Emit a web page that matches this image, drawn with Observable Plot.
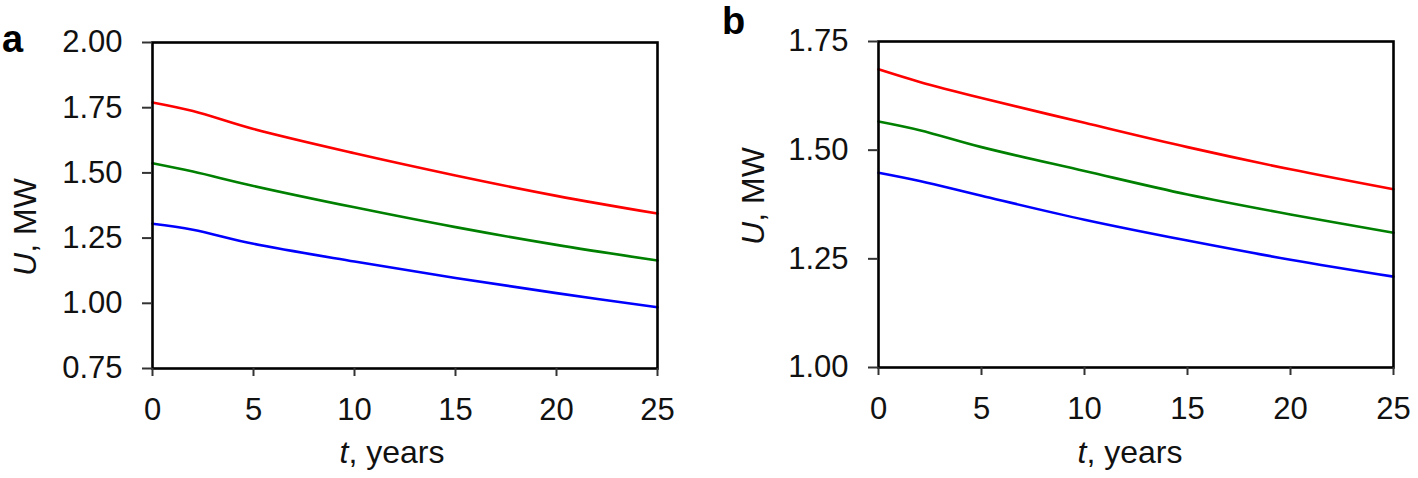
<!DOCTYPE html>
<html>
<head>
<meta charset="utf-8">
<script src="https://cdn.jsdelivr.net/npm/d3@7"></script>
<script src="https://cdn.jsdelivr.net/npm/@observablehq/plot@0.6"></script>
<style>
  html, body { margin: 0; padding: 0; background: #fff; }
  #root { position: relative; width: 1418px; height: 478px; overflow: hidden; font-family: "Liberation Sans", Arial, sans-serif; color: #111; }
  .panel { position: absolute; top: 0; }
  .tag { position: absolute; font-weight: bold; font-size: 38px; line-height: 38px; color: #000; }
  .ytitle { position: absolute; font-size: 32px; line-height: 32px; white-space: nowrap; transform: translate(-50%, -50%) rotate(-90deg); }
  .xtitle { position: absolute; font-size: 32px; line-height: 32px; white-space: nowrap; transform: translateX(-50%); }
</style>
</head>
<body>
<div id="root"></div>
<script>
// ---- data ----
const years = [0, 2, 5, 10, 15, 20, 25];
const seriesNames = ["red", "green", "blue"];
const seriesColors = ["#ff0000", "#008000", "#0000ff"];

// panel a
const aRed   = [1.770, 1.737, 1.668, 1.575, 1.490, 1.412, 1.344];
const aGreen = [1.537, 1.505, 1.450, 1.368, 1.292, 1.224, 1.164];
const aBlue  = [1.305, 1.282, 1.228, 1.160, 1.097, 1.039, 0.985];
const aTicksY = [0.75, 1.00, 1.25, 1.50, 1.75, 2.00];

// panel b
const bRed   = [1.686, 1.657, 1.620, 1.563, 1.507, 1.456, 1.410];
const bGreen = [1.566, 1.546, 1.507, 1.452, 1.398, 1.352, 1.310];
const bBlue  = [1.448, 1.429, 1.395, 1.340, 1.292, 1.248, 1.209];
const bTicksY = [1.00, 1.25, 1.50, 1.75];

const xTicks = [0, 5, 10, 15, 20, 25];

function rows(cols) {
  const out = [];
  cols.forEach((vals, i) => vals.forEach((v, j) => out.push({t: years[j], u: v, s: seriesNames[i]})));
  return out;
}

function panel({data, yDomain, yTicks, width, mLeft, mRight, mTop, mBottom}) {
  return Plot.plot({
    width, height: 478,
    marginLeft: mLeft, marginRight: mRight, marginTop: mTop, marginBottom: mBottom,
    style: {fontFamily: "Liberation Sans, Arial, sans-serif", fontSize: "31px", color: "#111", background: "white"},
    x: {domain: [0, 25]},
    y: {domain: yDomain},
    color: {domain: seriesNames, range: seriesColors},
    marks: [
      Plot.line(data, {x: "t", y: "u", z: "s", stroke: "s", strokeWidth: 2.6, curve: "catmull-rom"}),
      Plot.frame({stroke: "#000", strokeWidth: 2.6}),
      Plot.axisY({ticks: yTicks, tickFormat: d3.format(".2f"), tickSize: 10, tickPadding: 20, label: null, stroke: "#333", strokeWidth: 2, fill: "#111", fontSize: 31}),
      Plot.axisX({ticks: xTicks, tickFormat: d3.format("d"), tickSize: 8, tickPadding: 21, label: null, stroke: "#333", strokeWidth: 2, fill: "#111", fontSize: 31})
    ]
  });
}

const root = document.getElementById("root");

function addPanel(left, plotEl) {
  const d = document.createElement("div");
  d.className = "panel";
  d.style.left = left + "px";
  d.appendChild(plotEl);
  root.appendChild(d);
}

addPanel(0, panel({data: rows([aRed, aGreen, aBlue]), yDomain: [0.75, 2.0], yTicks: aTicksY,
  width: 700, mLeft: 152, mRight: 43, mTop: 42, mBottom: 110}));
addPanel(700, panel({data: rows([bRed, bGreen, bBlue]), yDomain: [1.0, 1.75], yTicks: bTicksY,
  width: 718, mLeft: 178, mRight: 25, mTop: 41, mBottom: 111}));

function addHTML(cls, html, left, top) {
  const d = document.createElement("div");
  d.className = cls;
  d.innerHTML = html;
  d.style.left = left + "px";
  d.style.top = top + "px";
  root.appendChild(d);
}

addHTML("tag", "a", 2, 20);
addHTML("tag", "b", 722, 2);
addHTML("ytitle", "<i>U</i>, MW", 25, 227);
addHTML("ytitle", "<i>U</i>, MW", 753, 196);
addHTML("xtitle", "<i>t</i>, years", 392, 436);
addHTML("xtitle", "<i>t</i>, years", 1130, 436);
</script>
</body>
</html>
